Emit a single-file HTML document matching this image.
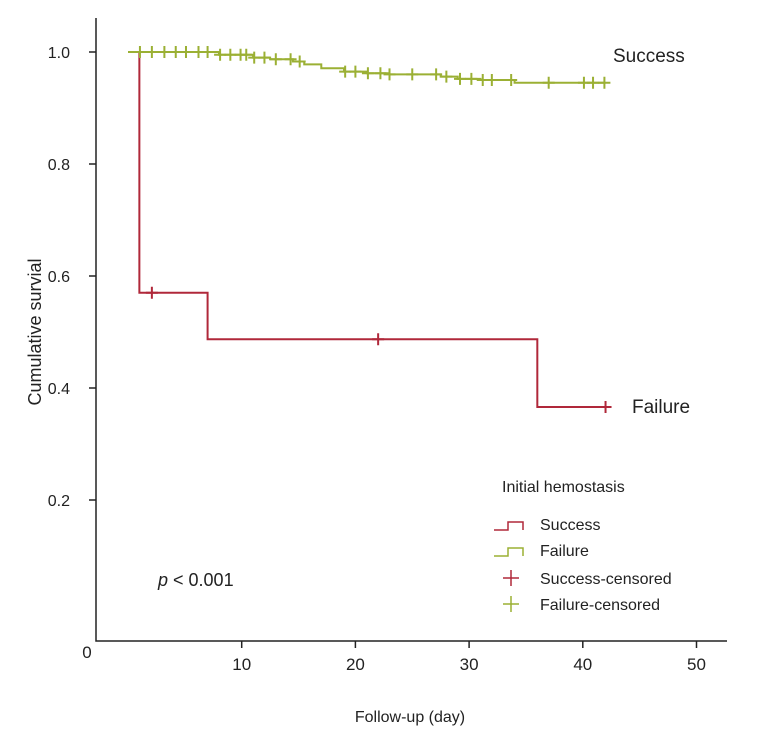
<!DOCTYPE html>
<html><head><meta charset="utf-8"><style>
body{margin:0;background:#fff;}
svg{display:block;font-family:"Liberation Sans",sans-serif;}
</style></head><body>
<svg id="chart" width="782" height="738">
<g id="axes"></g>
<g id="series"></g>
<text x="158" y="586" font-size="18" fill="#222"><tspan font-style="italic">p</tspan> &lt; 0.001</text>
<text x="613" y="62" font-size="19" fill="#222">Success</text>
<text x="632" y="413" font-size="19" fill="#222">Failure</text>
<text x="410" y="722" font-size="16" fill="#222" text-anchor="middle">Follow-up (day)</text>
<text transform="translate(41,332) rotate(-90)" font-size="18" fill="#222" text-anchor="middle">Cumulative survial</text>
<g>
<text x="502" y="492" font-size="16" fill="#222">Initial hemostasis</text>
<path d="M494 530 H508 V522 H523 V530" fill="none" stroke="#b0283a" stroke-width="1.5"/>
<text x="540" y="530" font-size="16" fill="#222">Success</text>
<path d="M494 556 H508 V548 H523 V556" fill="none" stroke="#9bb034" stroke-width="1.5"/>
<text x="540" y="556" font-size="16" fill="#222">Failure</text>
<path d="M511 570 V586 M503 578 H519" stroke="#b0283a" stroke-width="1.5"/>
<text x="540" y="584" font-size="16" fill="#222">Success-censored</text>
<path d="M511 596 V612 M503 604 H519" stroke="#9bb034" stroke-width="1.5"/>
<text x="540" y="610" font-size="16" fill="#222">Failure-censored</text>
</g>
</svg>
<script>
const xTicks=[10,20,30,40,50];
const yTicks=[0.2,0.4,0.6,0.8,1.0];
const redTimes=[0,1,7,36];
const redSurv=[1.0,0.57,0.487,0.366];
const redCensor=[2.1,22,42];
const greenTimes=[0,8,11,12.5,14.5,15.5,17,19,21,23,27.5,29,31,34];
const greenSurv=[1.0,0.995,0.99,0.987,0.983,0.978,0.971,0.965,0.962,0.96,0.956,0.952,0.95,0.945];
const greenCensor=[1.05,2.1,3.2,4.2,5.1,6.2,7.0,8.1,9.0,9.9,10.4,11.1,12,13,14.3,15.1,19.1,20,21.1,22.2,23,25,27.1,28,29.2,30.2,31.2,32,33.7,37,40.1,40.9,41.9];
const endDay=42;
const NS='http://www.w3.org/2000/svg';
function xs(d){return 128+d*11.37;}
function ys(v){return 612-v*560;}
function mk(tag,attrs,parent){const e=document.createElementNS(NS,tag);for(const k in attrs)e.setAttribute(k,attrs[k]);parent.appendChild(e);return e;}
const ax=document.getElementById('axes');
let a=mk('path',{d:'M96 18 V641 H727',fill:'none',stroke:'#222','stroke-width':1.5},ax);


xTicks.forEach(t=>{
 const tk=mk('line',{x1:xs(t),x2:xs(t),y1:641,y2:648,stroke:'#222','stroke-width':1.5},ax);
 
 
 const tx=mk('text',{x:xs(t),y:670,'font-size':17,'text-anchor':'middle',fill:'#222'},ax);
 tx.textContent=t;
 
 
});
yTicks.forEach(t=>{
 const tk=mk('line',{x1:89,x2:96,y1:ys(t),y2:ys(t),stroke:'#222','stroke-width':1.5},ax);
 
 
 const tx=mk('text',{x:70,y:ys(t)+6,'font-size':16,'text-anchor':'end',fill:'#222'},ax);
 tx.textContent=t.toFixed(1);
 
 
});
const z=mk('text',{x:87,y:658,'font-size':17,'text-anchor':'middle',fill:'#222'},ax);
z.textContent='0';


const sg=document.getElementById('series');
function drawSeries(times,surv,cens,color,name){
 let d='M'+xs(times[0])+' '+ys(surv[0]);
 for(let i=1;i<times.length;i++){d+=' H'+xs(times[i])+' V'+ys(surv[i]);}
 d+=' H'+xs(endDay);
 const p=mk('path',{d:d,fill:'none',stroke:color,'stroke-width':2},sg);
 
 
 cens.forEach(c=>{
  let v=surv[0];for(let i=0;i<times.length;i++){if(times[i]<=c)v=surv[i];}
  const x=xs(c),y=ys(v);
  const m=mk('path',{d:'M'+x+' '+(y-6)+' V'+(y+6)+' M'+(x-6)+' '+y+' H'+(x+6),stroke:color,'stroke-width':2},sg);
  
  
 });
}
drawSeries(redTimes,redSurv,redCensor,'#b0283a','success');
drawSeries(greenTimes,greenSurv,greenCensor,'#9bb034','failure');
</script>
</body></html>
